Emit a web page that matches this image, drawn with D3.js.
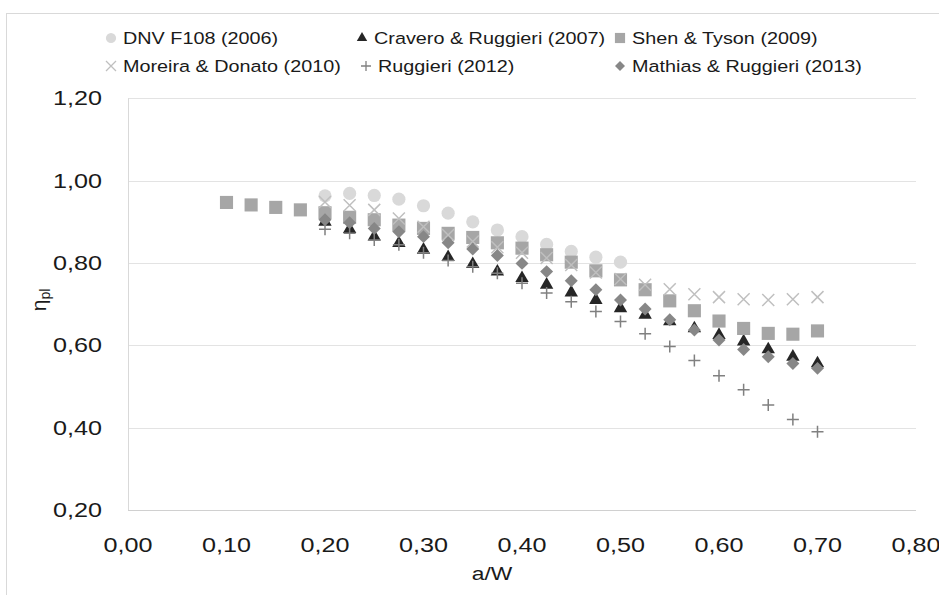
<!DOCTYPE html>
<html>
<head>
<meta charset="utf-8">
<script src="https://d3js.org/d3.v7.min.js"></script>
<style>
  body { margin: 0; background: #fff; }
  text { font-family: "Liberation Sans", Arial, sans-serif; fill: #1a1a1a; }
</style>
</head>
<body>
<svg id="chart" width="939" height="595"></svg>
<script>
// a/W values
var xsShen = [0.10, 0.125, 0.15, 0.175, 0.20, 0.225, 0.25, 0.275, 0.30, 0.325, 0.35, 0.375, 0.40, 0.425, 0.45, 0.475, 0.50, 0.525, 0.55, 0.575, 0.60, 0.625, 0.65, 0.675, 0.70];
var xsDnv = [0.20, 0.225, 0.25, 0.275, 0.30, 0.325, 0.35, 0.375, 0.40, 0.425, 0.45, 0.475, 0.50];
var xsFull = [0.20, 0.225, 0.25, 0.275, 0.30, 0.325, 0.35, 0.375, 0.40, 0.425, 0.45, 0.475, 0.50, 0.525, 0.55, 0.575, 0.60, 0.625, 0.65, 0.675, 0.70];

// eta_pl values per series
var dnv = [0.963, 0.969, 0.964, 0.955, 0.939, 0.921, 0.900, 0.880, 0.864, 0.845, 0.828, 0.814, 0.802];
var cravero = [0.900, 0.882, 0.864, 0.848, 0.832, 0.814, 0.797, 0.779, 0.763, 0.747, 0.728, 0.710, 0.690, 0.674, 0.658, 0.641, 0.625, 0.609, 0.590, 0.572, 0.556];
var shen = [0.947, 0.941, 0.935, 0.929, 0.922, 0.911, 0.905, 0.892, 0.884, 0.872, 0.862, 0.849, 0.836, 0.820, 0.802, 0.781, 0.759, 0.735, 0.708, 0.684, 0.659, 0.641, 0.629, 0.627, 0.635];
var moreira = [0.948, 0.940, 0.929, 0.908, 0.888, 0.868, 0.852, 0.838, 0.825, 0.812, 0.795, 0.777, 0.761, 0.747, 0.736, 0.724, 0.717, 0.712, 0.710, 0.712, 0.717];
var ruggieri = [0.882, 0.872, 0.856, 0.844, 0.825, 0.806, 0.791, 0.775, 0.751, 0.727, 0.706, 0.682, 0.658, 0.628, 0.597, 0.563, 0.526, 0.492, 0.455, 0.420, 0.390];
var mathias = [0.905, 0.898, 0.884, 0.876, 0.864, 0.849, 0.834, 0.818, 0.799, 0.779, 0.757, 0.735, 0.710, 0.688, 0.662, 0.637, 0.613, 0.590, 0.572, 0.556, 0.544];

var xTicks = [0, 0.1, 0.2, 0.3, 0.4, 0.5, 0.6, 0.7, 0.8];
var yTicks = [0.2, 0.4, 0.6, 0.8, 1.0, 1.2];

var svg = d3.select('#chart');
var fmt = function(v) { return d3.format('.2f')(v).replace('.', ','); };

var x = d3.scaleLinear().domain([0, 0.8]).range([128, 916]);
var y = d3.scaleLinear().domain([0.2, 1.2]).range([510, 98.3]);

// the source picture is stretched sideways, so text gets a horizontal scale
var sx = 1.2;
function label(g, px, py, txt, size, anchor) {
  return g.append('text')
    .attr('transform', 'translate(' + px + ',' + py + ') scale(' + sx + ',1)')
    .attr('text-anchor', anchor || 'start')
    .style('font-size', size + 'px')
    .text(txt);
}

// custom stroke symbols
var symX = { draw: function(c, s) { var r = Math.sqrt(s) / 2; c.moveTo(-r, -r); c.lineTo(r, r); c.moveTo(r, -r); c.lineTo(-r, r); } };
var symPlus = { draw: function(c, s) { var r = Math.sqrt(s) / 2; c.moveTo(-r, 0); c.lineTo(r, 0); c.moveTo(0, -r); c.lineTo(0, r); } };

var series = [
  { name: 'DNV F108 (2006)', xs: xsDnv, ys: dnv, type: d3.symbolCircle, size: 137, fill: '#d9d9d9' },
  { name: 'Cravero & Ruggieri (2007)', xs: xsFull, ys: cravero, type: d3.symbolTriangle, size: 78, fill: '#262626' },
  { name: 'Shen & Tyson (2009)', xs: xsShen, ys: shen, type: d3.symbolSquare, size: 172, fill: '#a6a6a6' },
  { name: 'Moreira & Donato (2010)', xs: xsFull, ys: moreira, type: symX, size: 144, stroke: '#bfbfbf' },
  { name: 'Ruggieri (2012)', xs: xsFull, ys: ruggieri, type: symPlus, size: 144, stroke: '#808080' },
  { name: 'Mathias & Ruggieri (2013)', xs: xsFull, ys: mathias, type: d3.symbolSquare, size: 84, fill: '#878787', rot: 45 }
];

// chart border
svg.append('rect').attr('x', 6.5).attr('y', 13.5).attr('width', 1000).attr('height', 1000)
  .attr('fill', 'none').attr('stroke', '#d9d9d9');

// gridlines
svg.append('g').selectAll('line').data(yTicks).enter().append('line')
  .attr('x1', x(0)).attr('x2', x(0.8))
  .attr('y1', function(d) { return Math.round(y(d)) + 0.5; })
  .attr('y2', function(d) { return Math.round(y(d)) + 0.5; })
  .attr('stroke', function(d) { return d === 0.2 ? '#d0d0d0' : '#e3e3e3'; });
svg.append('line').attr('x1', x(0) + 0.5).attr('x2', x(0) + 0.5)
  .attr('y1', y(1.2)).attr('y2', y(0.2)).attr('stroke', '#d9d9d9');

// tick labels
var axisG = svg.append('g');
yTicks.forEach(function(t) { label(axisG, 102, y(t) + 7, fmt(t), 21, 'end'); });
xTicks.forEach(function(t) { label(axisG, x(t), 552, fmt(t), 21, 'middle'); });

// axis titles
label(svg, 492, 580, 'a/W', 19, 'middle');
var yt = svg.append('text')
  .attr('transform', 'translate(46,300) rotate(-90)')
  .attr('text-anchor', 'middle')
  .style('font-size', '21px');
yt.append('tspan').text('η');
yt.append('tspan').attr('dy', 4).style('font-size', '14px').text('pl');

// markers
series.forEach(function(s) {
  var sym = d3.symbol().type(s.type).size(s.size);
  svg.append('g').selectAll('path').data(s.ys).enter().append('path')
    .attr('d', sym)
    .attr('transform', function(d, i) {
      return 'translate(' + x(s.xs[i]) + ',' + y(d) + ')' + (s.rot ? ' rotate(' + s.rot + ')' : '');
    })
    .attr('fill', s.fill || 'none')
    .attr('stroke', s.stroke || 'none')
    .attr('stroke-width', s.stroke ? 1.5 : 0);
});

// legend
var legPos = [[111, 38], [362, 38], [620, 38], [111, 66], [366, 66], [620, 66]];
var leg = svg.append('g');
series.forEach(function(s, i) {
  var p = legPos[i];
  var sz = s.stroke ? 100 : s.size * 0.6;
  leg.append('path')
    .attr('d', d3.symbol().type(s.type).size(sz))
    .attr('transform', 'translate(' + p[0] + ',' + p[1] + ')' + (s.rot ? ' rotate(' + s.rot + ')' : ''))
    .attr('fill', s.fill || 'none')
    .attr('stroke', s.stroke || 'none')
    .attr('stroke-width', s.stroke ? 1.3 : 0);
  label(leg, p[0] + 12, p[1] + 6, s.name, 16.5);
});
</script>
</body>
</html>
